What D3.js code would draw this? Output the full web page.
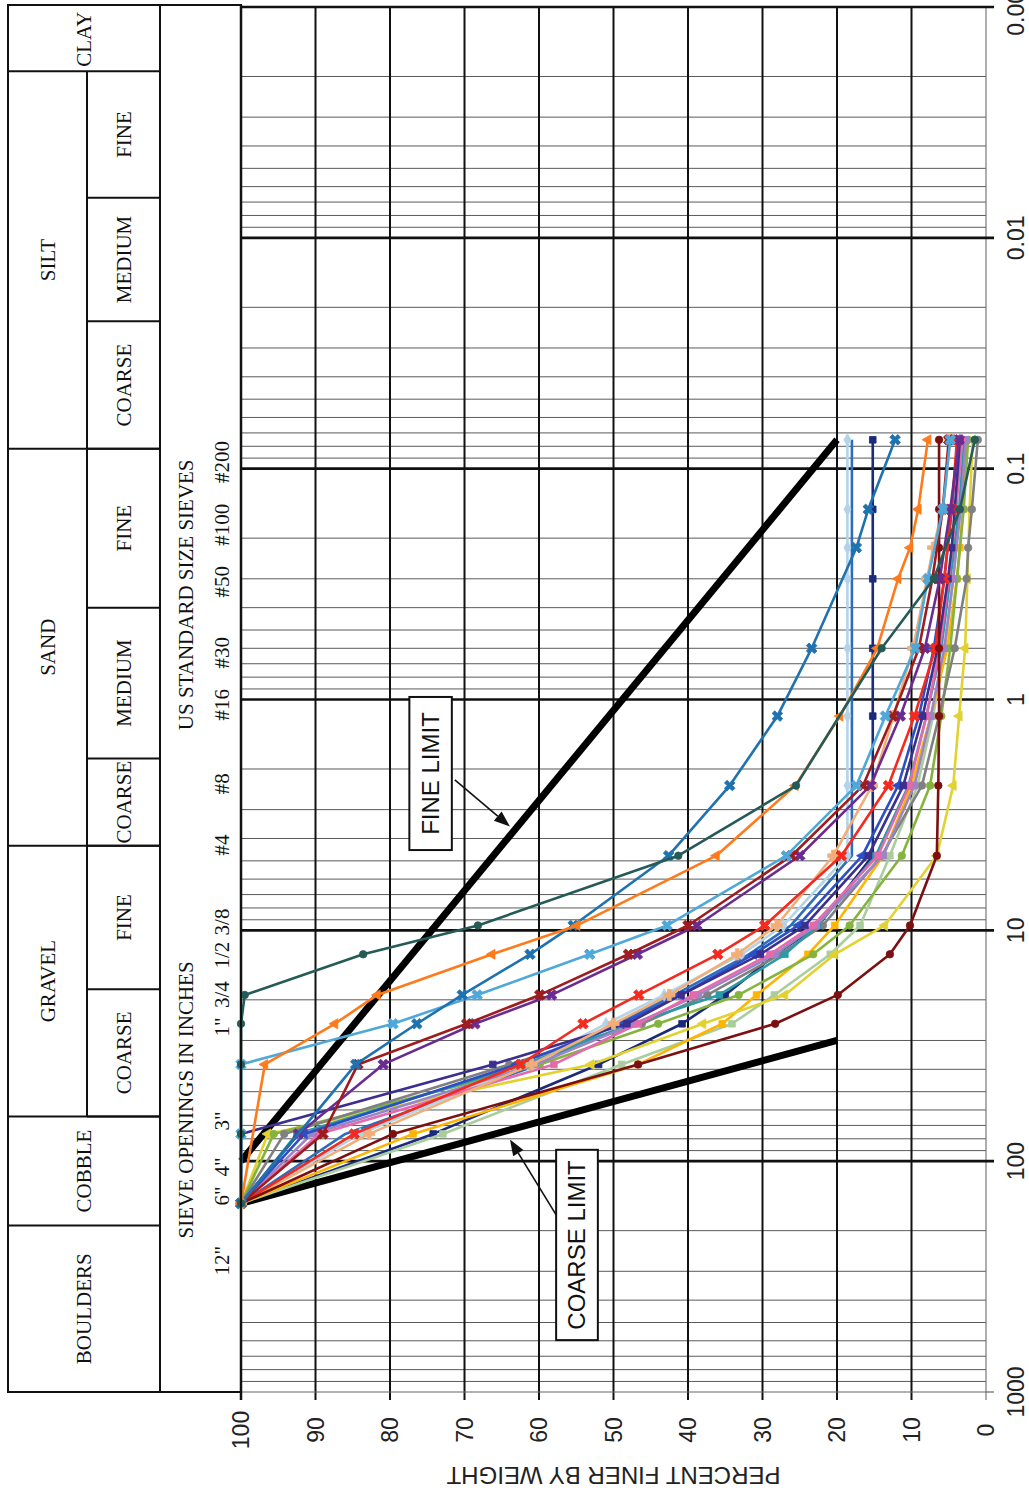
<!DOCTYPE html>
<html><head><meta charset="utf-8">
<script src="https://cdn.jsdelivr.net/npm/d3@7"></script>
<style>html,body{margin:0;padding:0;background:#fff;} svg{display:block;}</style>
</head><body>
<svg id="c" width="1029" height="1493"></svg>
<script>
// ---------------- DATA ----------------
// sieve sizes in mm (6", 4", 3", 1.5", 1", 3/4", 1/2", 3/8", #4, #8, #16, #30, #50, #60, #100, #200)
const sieveSizes = [152.4, 101.6, 76.2, 38.1, 25.4, 19.05, 12.7, 9.525, 4.75, 2.36, 1.18, 0.6, 0.3, 0.22, 0.15, 0.075];
const sieveNames = ['6"','4"','3"','1.5"','1"','3/4"','1/2"','3/8"','#4','#8','#16','#30','#50','#60','#100','#200'];

const percentTicks = [0,10,20,30,40,50,60,70,80,90,100];
const sizeTicks = [1000,100,10,1,0.1,0.01,0.001];
const sizeTickLabels = ["1000","100","10","1","0.1","0.01","0.001"];

const sieveLabelText = ['12"','6"','4"','3"','1"','3/4','1/2','3/8','#4','#8','#16','#30','#50','#100','#200'];
const sieveLabelAt   = [270, 141.6, 106, 67, 26.2, 19.0, 12.8, 9.2, 4.27, 2.32, 1.055, 0.628, 0.309, 0.175, 0.0935];

const soilMain = ["BOULDERS","COBBLE","GRAVEL","SAND","SILT","CLAY"];
const soilMainBounds = [[1000,190],[190,64],[64,4.3],[4.3,0.082],[0.082,0.0019],[0.0019,0.001]];
const soilMainFull = [true,true,false,false,false,true];
const soilSub = ["COARSE","FINE","COARSE","MEDIUM","FINE","COARSE","MEDIUM","FINE"];
const soilSubBounds = [[64,18],[18,4.3],[4.3,1.8],[1.8,0.4],[0.4,0.082],[0.082,0.023],[0.023,0.0067],[0.0067,0.0019]];

const fineLimit = [[100,100],[0.075,20]];     // [size mm, percent]
const coarseLimit = [[152.4,100],[30,20]];

// percent finer per sieve (null = no reading)
const tealSeries     = [100,null,100,100,100,99.5,83.6,68.2,41.3,25.5,null,14.0,7.0,null,3.5,1.5];
const orangeSeries   = [100,null,null,96.8,87.4,81.7,66.3,54.9,36.2,25.6,19.6,14.6,11.8,10.2,9.1,7.8];
const steelSeries    = [100,null,null,84.6,76.4,70.3,61.2,55.4,42.6,34.4,28.0,23.4,null,17.4,15.8,12.2];
const skySeries      = [100,null,100,100,79.6,68.3,53.2,42.8,26.8,17.4,13.5,9.5,7.8,null,5.8,4.8];
const maroonXSeries  = [100,null,89.0,84.3,69.7,59.9,48.0,40.0,26.1,16.5,12.5,9.0,7.2,null,5.8,5.0];
const purpleXSeries  = [100,null,92.3,80.9,68.6,58.3,46.8,38.8,25.0,15.5,11.5,8.2,6.2,null,4.8,3.6];
const yellowSeries   = [100,null,96.4,53.0,38.0,27.0,20.3,13.6,6.6,4.4,3.6,2.8,2.5,null,2.2,1.8];
const greenSeries    = [100,null,95.6,59.9,44.0,33.2,23.2,18.3,11.3,7.5,6.0,4.8,3.9,null,3.0,2.4];
const graySeries     = [100,null,94.2,64.0,46.2,37.4,27.6,21.9,14.0,8.6,6.3,4.2,2.6,2.4,1.9,1.1];
const aquaSeries     = [100,null,92.5,62.0,47.5,35.8,27.0,22.6,14.8,10.4,8.0,6.0,4.8,null,3.6,2.9];
const navyPSeries    = [100,null,100,66.2,48.2,40.9,30.3,24.3,15.8,11.1,8.5,6.5,5.1,4.6,4.2,3.5];
const pinkSeries     = [100,null,89.5,58.0,46.7,39.3,29.0,23.2,14.5,10.3,8.0,6.2,5.0,null,4.0,3.2];
const lavenderSeries = [100,null,90.5,60.5,47.2,38.6,28.3,22.8,13.8,9.6,7.4,5.6,4.4,null,3.4,2.7];
const royalSeries    = [100,null,91.5,63.0,49.0,41.0,31.2,25.2,16.6,11.8,9.0,7.0,5.6,null,4.6,3.8];
const redSeries      = [100,null,84.8,62.5,54.1,46.6,36.0,29.7,19.4,13.1,9.6,6.8,5.6,null,4.6,3.9];
const tanSeries      = [100,null,82.8,61.0,50.0,42.5,33.4,28.1,20.5,15.3,12.4,9.8,7.9,7.1,5.8,4.8];
const iceSeries      = [100,null,84.0,61.5,51.0,43.2,32.8,27.2,18.6,18.6,18.6,18.6,18.6,18.6,18.6,18.6];
const blueVSeries    = [100,null,86.0,60.0,49.5,41.8,31.8,26.2,18.0,18.0,18.0,18.0,18.0,null,18.0,18.0];
const navyVSeries    = [100,null,74.2,52.0,40.8,35.0,28.2,22.5,15.2,15.2,15.2,15.2,15.2,null,15.2,15.2];
const goldSeries     = [100,null,76.9,46.7,35.4,30.8,23.9,20.3,13.8,10.0,7.4,5.2,3.9,3.5,3.1,2.6];
const sageSeries     = [100,null,72.9,48.9,34.1,28.4,20.9,16.9,12.9,9.2,7.1,5.5,4.4,null,3.6,3.0];
const darkRedSeries  = [100,null,79.6,46.7,28.3,19.9,12.9,10.2,6.6,6.4,6.3,6.3,6.3,6.3,6.3,6.3];

const seriesList = [
  {v: blueVSeries,    c:"#2D6DBE", m:null},
  {v: navyVSeries,    c:"#1B2A7A", m:"square"},
  {v: iceSeries,      c:"#B3D3E8", m:"diamond"},
  {v: sageSeries,     c:"#A9CD9C", m:"square"},
  {v: goldSeries,     c:"#FFB400", m:"square"},
  {v: yellowSeries,   c:"#E2D231", m:"triangle"},
  {v: greenSeries,    c:"#84B43C", m:"circle"},
  {v: graySeries,     c:"#808080", m:"circle"},
  {v: aquaSeries,     c:"#2A9AA6", m:"square"},
  {v: lavenderSeries, c:"#9A86C6", m:"square"},
  {v: pinkSeries,     c:"#E46AAE", m:"square"},
  {v: royalSeries,    c:"#2B4FC6", m:"triangle"},
  {v: navyPSeries,    c:"#3B2F8F", m:"square"},
  {v: tanSeries,      c:"#F2AE78", m:"cross"},
  {v: redSeries,      c:"#F42A1E", m:"x"},
  {v: darkRedSeries,  c:"#7C0F0F", m:"circle"},
  {v: purpleXSeries,  c:"#6A2C91", m:"x"},
  {v: maroonXSeries,  c:"#9E1B1E", m:"x"},
  {v: skySeries,      c:"#4FA8DA", m:"x"},
  {v: steelSeries,    c:"#1F72B0", m:"x"},
  {v: orangeSeries,   c:"#FF7A1A", m:"triangle"},
  {v: tealSeries,     c:"#245B57", m:"circle"}
];

// ---------------- LAYOUT ----------------
const svg = d3.select("#c");
const x = d3.scaleLinear().domain([0,100]).range([986,241]);   // percent finer
const y = d3.scaleLog().domain([0.001,1000]).range([7,1392]);  // grain size mm
const X0 = x(0), X100 = x(100), Ytop = y(0.001), Ybot = y(1000);
const serif = "'Liberation Serif','Times New Roman',serif";
const sans = "'Liberation Sans',Arial,sans-serif";

svg.append("rect").attr("width",1029).attr("height",1493).attr("fill","#fff");

// grid: minor log lines
const minor = [];
for (let k=-3;k<=2;k++) for (let m=2;m<=9;m++) minor.push(+(m*Math.pow(10,k)).toPrecision(3));
const g = svg.append("g");
g.selectAll(".mn").data(minor).join("line")
  .attr("x1",X100).attr("x2",X0).attr("y1",d=>y(d)).attr("y2",d=>y(d))
  .attr("stroke","#5a5a5a").attr("stroke-width",1);
// percent grid
g.selectAll(".pg").data(percentTicks.filter(d=>d>0&&d<100)).join("line")
  .attr("x1",d=>x(d)).attr("x2",d=>x(d)).attr("y1",Ytop).attr("y2",Ybot+8)
  .attr("stroke","#111").attr("stroke-width",2);
// right border & bottom border
g.append("line").attr("x1",X0).attr("x2",X0).attr("y1",Ytop).attr("y2",Ybot+8).attr("stroke","#777").attr("stroke-width",1.2);
g.append("line").attr("x1",X100).attr("x2",X0).attr("y1",Ybot).attr("y2",Ybot).attr("stroke","#666").attr("stroke-width",1.2);
// major log lines
g.selectAll(".mj").data(sizeTicks.filter(d=>d<1000)).join("line")
  .attr("x1",X100).attr("x2",X0+8).attr("y1",d=>y(d)).attr("y2",d=>y(d))
  .attr("stroke","#111").attr("stroke-width",2.6);
g.append("line").attr("x1",X0).attr("x2",X0+8).attr("y1",Ybot).attr("y2",Ybot).attr("stroke","#666").attr("stroke-width",1.2);
// left border
g.append("line").attr("x1",X100).attr("x2",X100).attr("y1",Ytop-2).attr("y2",Ybot+8).attr("stroke","#111").attr("stroke-width",2.5);

// tick labels
svg.selectAll(".pl").data(percentTicks).join("text")
  .attr("transform",d=>`translate(${x(d)},${Ybot+38}) rotate(-90)`)
  .attr("text-anchor","middle").attr("dominant-baseline","central")
  .attr("font-family",sans).attr("font-size",23).attr("fill","#222").text(d=>d);
svg.selectAll(".sl").data(sizeTicks).join("text")
  .attr("transform",(d)=>`translate(${X0+30},${y(d)}) rotate(-90)`)
  .attr("text-anchor","middle").attr("dominant-baseline","central")
  .attr("font-family",sans).attr("font-size",23).attr("fill","#222").text((d,i)=>sizeTickLabels[i]);
svg.append("text").attr("transform",`translate(${x(50)},${Ybot+83}) rotate(180)`)
  .attr("text-anchor","middle").attr("dominant-baseline","central")
  .attr("font-family",sans).attr("font-size",24).attr("fill","#222").text("PERCENT FINER BY WEIGHT");

// limit lines
[fineLimit, coarseLimit].forEach(L=>{
  svg.append("line").attr("x1",x(L[0][1])).attr("y1",y(L[0][0])).attr("x2",x(L[1][1])).attr("y2",y(L[1][0]))
    .attr("stroke","#000").attr("stroke-width",7);
});

// series
const line = d3.line().x(d=>x(d.p)).y(d=>y(d.s));
const symType = {triangle:d3.symbolTriangle, square:d3.symbolSquare, diamond:d3.symbolDiamond,
  circle:d3.symbolCircle, cross:d3.symbolCross, x:d3.symbolCross};
const sg = svg.append("g");
seriesList.forEach(S=>{
  const pts = sieveSizes.map((s,i)=>({s, p:S.v[i]})).filter(d=>d.p!==null);
  sg.append("path").attr("d",line(pts)).attr("fill","none").attr("stroke",S.c).attr("stroke-width",2.6)
    .attr("stroke-linejoin","round");
  if (S.m) {
    const sym = d3.symbol().type(symType[S.m]).size(S.m==="cross"||S.m==="x"?70:44);
    sg.selectAll(null).data(pts).join("path")
      .attr("d",sym)
      .attr("transform",d=>`translate(${x(d.p)},${y(d.s)})`+(S.m==="x"?" rotate(45)":"")+(S.m==="triangle"?" rotate(-90)":""))
      .attr("fill",S.c).attr("stroke",S.c).attr("stroke-width",0.8);
  }
});

// annotations (percent / size units)
function box(p1,p2,s1,s2,label){
  const xa=x(p1), xb=x(p2), ya=y(s2), yb=y(s1);
  svg.append("rect").attr("x",Math.min(xa,xb)).attr("y",Math.min(ya,yb))
    .attr("width",Math.abs(xb-xa)).attr("height",Math.abs(yb-ya))
    .attr("fill","#fff").attr("stroke","#111").attr("stroke-width",2);
  svg.append("text").attr("transform",`translate(${(xa+xb)/2},${(ya+yb)/2}) rotate(-90)`)
    .attr("text-anchor","middle").attr("dominant-baseline","central")
    .attr("font-family",sans).attr("font-size",24).attr("fill","#111").text(label);
}
function arrow(p1,s1,p2,s2){
  const x1=x(p1),y1=y(s1),x2=x(p2),y2=y(s2);
  const a=Math.atan2(y2-y1,x2-x1), L=16, w=6;
  const bx=x2-L*Math.cos(a), by=y2-L*Math.sin(a);
  svg.append("line").attr("x1",x1).attr("y1",y1).attr("x2",bx).attr("y2",by).attr("stroke","#111").attr("stroke-width",1.6);
  svg.append("path").attr("d",`M${x2},${y2}L${bx+w*Math.sin(a)},${by-w*Math.cos(a)}L${bx-w*Math.sin(a)},${by+w*Math.cos(a)}Z`).attr("fill","#111");
}
box(77.4,71.7,0.975,4.49,"FINE LIMIT");
arrow(71.3,2.23,63.9,3.55);
box(57.7,52.1,89.3,596,"COARSE LIMIT");
arrow(57.7,171,63.9,80.5);

// header table
const C0=8, C1=87, C2=160, C3=X100;
const hg = svg.append("g");
hg.append("rect").attr("x",C0).attr("y",Ytop-2).attr("width",C3-C0).attr("height",Ybot-Ytop+2)
  .attr("fill","none").attr("stroke","#111").attr("stroke-width",2);
hg.append("line").attr("x1",C2).attr("x2",C2).attr("y1",Ytop-2).attr("y2",Ybot).attr("stroke","#111").attr("stroke-width",2);
soilMain.forEach((t,i)=>{
  const [a,b]=soilMainBounds[i];
  if (i>0) hg.append("line").attr("x1",C0).attr("x2",C2).attr("y1",y(a)).attr("y2",y(a)).attr("stroke","#111").attr("stroke-width",2);
  if (!soilMainFull[i]) hg.append("line").attr("x1",C1).attr("x2",C1).attr("y1",y(a)).attr("y2",y(b)).attr("stroke","#111").attr("stroke-width",2);
  const cx = soilMainFull[i] ? (C0+C2)/2 : (C0+C1)/2;
  hg.append("text").attr("transform",`translate(${cx},${(y(a)+y(b))/2}) rotate(-90)`)
    .attr("text-anchor","middle").attr("dominant-baseline","central")
    .attr("font-family",serif).attr("font-size",21).attr("fill","#111").text(t);
});
soilSub.forEach((t,i)=>{
  const [a,b]=soilSubBounds[i];
  hg.append("line").attr("x1",C1).attr("x2",C2).attr("y1",y(a)).attr("y2",y(a)).attr("stroke","#111").attr("stroke-width",2);
  hg.append("text").attr("transform",`translate(${(C1+C2)/2},${(y(a)+y(b))/2}) rotate(-90)`)
    .attr("text-anchor","middle").attr("dominant-baseline","central")
    .attr("font-family",serif).attr("font-size",21).attr("fill","#111").text(t);
});
hg.append("text").attr("transform",`translate(186,${y(0.352)}) rotate(-90)`)
  .attr("text-anchor","middle").attr("dominant-baseline","central")
  .attr("font-family",serif).attr("font-size",21).attr("fill","#111").text("US STANDARD SIZE SIEVES");
hg.append("text").attr("transform",`translate(186,${y(54.3)}) rotate(-90)`)
  .attr("text-anchor","middle").attr("dominant-baseline","central")
  .attr("font-family",serif).attr("font-size",21).attr("fill","#111").text("SIEVE OPENINGS IN INCHES");
hg.selectAll(".sv").data(sieveLabelText).join("text")
  .attr("transform",(d,i)=>`translate(222,${y(sieveLabelAt[i])}) rotate(-90)`)
  .attr("text-anchor","middle").attr("dominant-baseline","central")
  .attr("font-family",serif).attr("font-size",21).attr("fill","#111").text(d=>d);
</script>
</body></html>
